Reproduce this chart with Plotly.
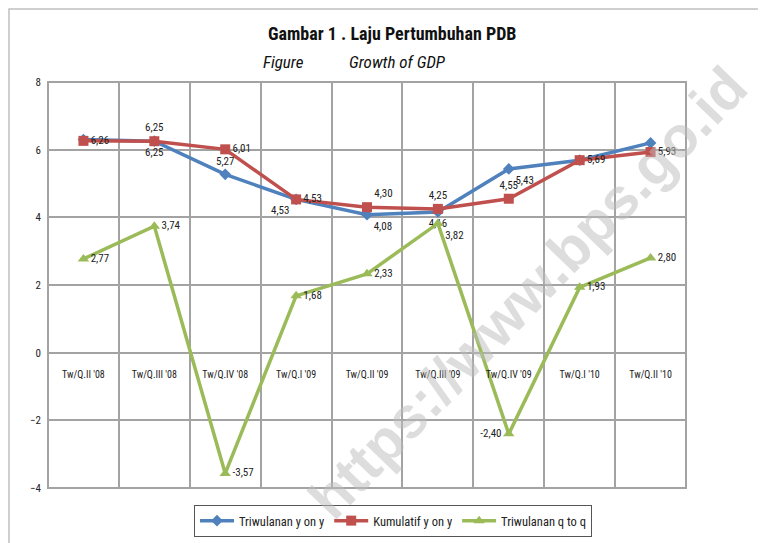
import plotly.graph_objects as go

categories = ["Tw/Q.II '08", "Tw/Q.III '08", "Tw/Q.IV '08", "Tw/Q.I '09", "Tw/Q.II '09",
              "Tw/Q.III '09", "Tw/Q.IV '09", "Tw/Q.I '10", "Tw/Q.II '10"]
yoy = [6.30, 6.25, 5.27, 4.53, 4.08, 4.16, 5.43, 5.69, 6.20]
kumulatif = [6.26, 6.25, 6.01, 4.53, 4.30, 4.25, 4.55, 5.69, 5.93]
qtoq = [2.77, 3.74, -3.57, 1.68, 2.33, 3.82, -2.40, 1.93, 2.80]

yoy_show = [False, True, True, True, True, True, True, False, False]
yoy_pos = ["middle right", "bottom center", "top center", "bottom left", "bottom right",
           "bottom center", "bottom right", "middle right", "middle right"]
kum_pos = ["middle right", "top center", "middle right", "middle right", "top right",
           "top center", "top center", "middle right", "middle right"]
qtoq_pos = ["middle right", "middle right", "middle right", "middle right", "middle right",
            "bottom right", "middle left", "middle right", "middle right"]

def fmt(v):
    return f"{v:.2f}".replace(".", ",")

FONT = "Liberation Sans Narrow, Roboto Condensed, Liberation Sans, Arial"
OFF = 8  # page body margin
W, H = 766 - OFF, 543 - OFF
L, R, T, B = 48, 686, 82, 488  # plot area in window pixels

def px(x):
    return (x - L) / (R - L)

def py(y):
    return (B - y) / (B - T)

fig = go.Figure()
fig.add_trace(go.Scatter(
    x=categories, y=yoy, name="Triwulanan y on y", mode="lines+markers+text",
    line=dict(color="#4F81BD", width=3.5),
    marker=dict(symbol="diamond", size=9, color="#4F81BD"),
    text=[fmt(v) if s else "" for v, s in zip(yoy, yoy_show)],
    textposition=yoy_pos, textfont=dict(family=FONT, size=11, color="#222"),
))
fig.add_trace(go.Scatter(
    x=categories, y=kumulatif, name="Kumulatif y on y", mode="lines+markers+text",
    line=dict(color="#C0504D", width=3.5),
    marker=dict(symbol="square", size=10, color="#C0504D"),
    text=[fmt(v) for v in kumulatif],
    textposition=kum_pos, textfont=dict(family=FONT, size=11, color="#222"),
))
fig.add_trace(go.Scatter(
    x=categories, y=qtoq, name="Triwulanan q to q", mode="lines+markers+text",
    line=dict(color="#9BBB59", width=3.5),
    marker=dict(symbol="triangle-up", size=10, color="#9BBB59"),
    text=[fmt(v) for v in qtoq],
    textposition=qtoq_pos, textfont=dict(family=FONT, size=11, color="#222"),
))

fig.update_layout(
    width=W, height=H,
    margin=dict(l=L - OFF, r=W - (R - OFF), t=T - OFF, b=H - (B - OFF), autoexpand=False),
    paper_bgcolor="white", plot_bgcolor="white",
    font=dict(family=FONT, color="#222"),
    showlegend=True,
    legend=dict(orientation="h", x=px(393), y=py(521), xanchor="center", yanchor="middle",
                bordercolor="#555", borderwidth=1, font=dict(family=FONT, size=12.5),
                itemwidth=34, tracegroupgap=0),
    xaxis=dict(type="category", tickson="boundaries", showgrid=True, gridcolor="#a3a3a3",
               gridwidth=1.5, showline=False, ticks="", anchor="free", position=1/3,
               ticklabelstandoff=14, tickfont=dict(family=FONT, size=10, color="#222"),
               range=[-0.5, 8.5], zeroline=False),
    yaxis=dict(range=[-4, 8], dtick=2, tick0=0, showgrid=True, gridcolor="#a3a3a3",
               gridwidth=1.5, zeroline=True, zerolinecolor="#a3a3a3", zerolinewidth=1.5,
               showline=False, ticks="", tickfont=dict(family=FONT, size=11, color="#222"),
               ticklabelstandoff=6),
)

# plot frame
fig.add_shape(type="rect", xref="paper", yref="paper", x0=0, x1=1, y0=0, y1=1,
              line=dict(color="#a3a3a3", width=2), layer="above")
# outer chart frame (top and left edges visible)
fig.add_shape(type="rect", xref="paper", yref="paper", x0=px(9), x1=px(800), y0=py(600), y1=py(9),
              line=dict(color="#c0c0c0", width=1.5))

fig.add_annotation(text="<b>Gambar 1 . Laju Pertumbuhan PDB</b>", xref="paper", yref="paper",
                   x=px(392), y=py(33), xanchor="center", yanchor="middle", showarrow=False,
                   font=dict(family=FONT, size=18, color="#111"))
fig.add_annotation(text="<i>Figure</i>", xref="paper", yref="paper",
                   x=px(261), y=py(62), xanchor="left", yanchor="middle", showarrow=False,
                   font=dict(family=FONT, size=17, color="#111"))
fig.add_annotation(text="<i>Growth of GDP</i>", xref="paper", yref="paper",
                   x=px(347), y=py(62), xanchor="left", yanchor="middle", showarrow=False,
                   font=dict(family=FONT, size=17, color="#111"))

# watermark
fig.add_annotation(text="<b>https://www.bps.go.id</b>", xref="paper", yref="paper",
                   x=px(527), y=py(292), xanchor="center", yanchor="middle", showarrow=False,
                   textangle=-46, opacity=0.5,
                   font=dict(family="Liberation Sans, Arial", size=58, color="#bdbdbd"))

fig.write_html("out.html")
